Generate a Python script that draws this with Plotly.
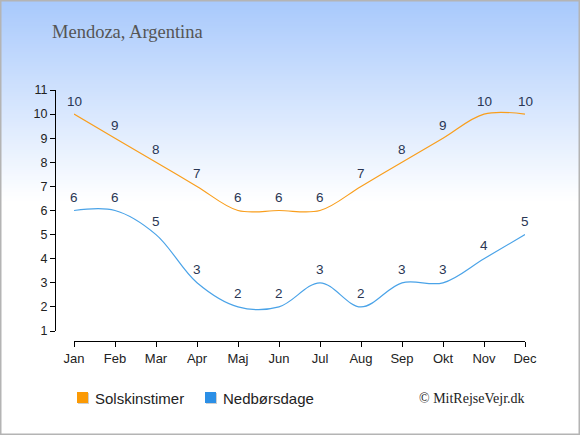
import plotly.graph_objects as go

months = ["Jan", "Feb", "Mar", "Apr", "Maj", "Jun", "Jul", "Aug", "Sep", "Okt", "Nov", "Dec"]
sun_hours = [10, 9, 8, 7, 6, 6, 6, 7, 8, 9, 10, 10]
rain_days = [6, 6, 5, 3, 2, 2, 3, 2, 3, 3, 4, 5]
y_ticks = list(range(1, 12))
series_names = ["Solskinstimer", "Nedbørsdage"]

W, H = 580, 435
SUN_COLOR = "#f99e1c"
RAIN_COLOR = "#4aa3e8"
LABEL_COLOR = "#2a3654"
SANS = "Liberation Sans, Arial, sans-serif"
SERIF = "Liberation Serif, Times New Roman, serif"

fig = go.Figure()
x_idx = list(range(len(months)))

fig.add_trace(go.Scatter(x=x_idx, y=sun_hours, mode="lines", name=series_names[0],
                         line=dict(color=SUN_COLOR, width=1.2, shape="spline", smoothing=1),
                         showlegend=False, hoverinfo="skip"))
fig.add_trace(go.Scatter(x=x_idx, y=rain_days, mode="lines", name=series_names[1],
                         line=dict(color=RAIN_COLOR, width=1.2, shape="spline", smoothing=1),
                         showlegend=False, hoverinfo="skip"))


def px_x(p):
    return p / W


def px_y(p):
    return 1 - p / H


annotations = []
for series in (sun_hours, rain_days):
    for xi, v in zip(x_idx, series):
        annotations.append(dict(x=xi, y=v, xref="x", yref="y", text=str(v), showarrow=False,
                                yshift=13, font=dict(family=SANS, size=13.5, color=LABEL_COLOR)))

annotations.append(dict(x=px_x(50), y=px_y(32), xref="paper", yref="paper", xanchor="left", yanchor="middle",
                        text="Mendoza, Argentina", showarrow=False,
                        font=dict(family=SERIF, size=18.5, color="#555555")))
annotations.append(dict(x=px_x(527), y=px_y(398), xref="paper", yref="paper", xanchor="right", yanchor="middle",
                        text="© MitRejseVejr.dk", showarrow=False,
                        font=dict(family=SERIF, size=14, color="#222222")))

# legend (drawn manually to match the reference spacing)
shapes = []
legend_items = [(series_names[0], "#fb9a05", 77, 93), (series_names[1], "#2b8fe6", 205, 221)]
for name, col, sq_x, tx in legend_items:
    shapes.append(dict(type="rect", xref="paper", yref="paper",
                       x0=px_x(sq_x + 1), x1=px_x(sq_x + 12), y0=px_y(404), y1=px_y(393),
                       line=dict(width=0), fillcolor="#cfcfcf", layer="above"))
    shapes.append(dict(type="rect", xref="paper", yref="paper",
                       x0=px_x(sq_x), x1=px_x(sq_x + 11), y0=px_y(403), y1=px_y(392),
                       line=dict(width=0), fillcolor=col, layer="above"))
    annotations.append(dict(x=px_x(tx), y=px_y(398), xref="paper", yref="paper", xanchor="left",
                            yanchor="middle", text=name, showarrow=False,
                            font=dict(family=SANS, size=15, color="#222222")))

# background gradient (light blue at top fading to white)
top = (168, 201, 252)
grad_end = 200
step = 2
for y0 in range(0, grad_end, step):
    t = y0 / grad_end
    c = tuple(int(round(top[i] + (255 - top[i]) * t)) for i in range(3))
    shapes.append(dict(type="rect", xref="paper", yref="paper", x0=0, x1=1,
                       y0=px_y(y0 + step + 0.5), y1=px_y(y0), line=dict(width=0),
                       fillcolor="rgb(%d,%d,%d)" % c, layer="below"))
shapes.append(dict(type="rect", xref="paper", yref="paper", x0=px_x(0.75), x1=px_x(W - 0.75),
                   y0=px_y(H - 0.75), y1=px_y(0.75),
                   line=dict(color="#b4b4b4", width=1.5), fillcolor="rgba(0,0,0,0)", layer="above"))

x0_px, x1_px = 74, 525
ytop_px, ybot_px = 90, 331
fig.update_layout(
    template="none",
    width=W, height=H,
    margin=dict(l=0, r=0, t=0, b=0, pad=0, autoexpand=False),
    paper_bgcolor="white", plot_bgcolor="rgba(0,0,0,0)",
    shapes=shapes, annotations=annotations,
    showlegend=False,
    hovermode=False,
    xaxis=dict(domain=[px_x(x0_px), px_x(x1_px)], range=[0, 11], tickvals=x_idx, ticktext=months,
               showgrid=False, zeroline=False, showline=True, linecolor="black", linewidth=1,
               ticks="outside", ticklen=5, tickcolor="black", tickwidth=1, automargin=False,
               anchor="free", position=px_y(341), fixedrange=True,
               tickfont=dict(family=SANS, size=13, color="#222222")),
    yaxis=dict(domain=[px_y(ybot_px), px_y(ytop_px)], range=[1, 11], tickvals=y_ticks,
               showgrid=False, zeroline=False, showline=True, linecolor="black", linewidth=1,
               ticks="outside", ticklen=5, tickcolor="black", tickwidth=1, automargin=False,
               anchor="free", position=px_x(55), fixedrange=True,
               tickfont=dict(family=SANS, size=12.5, color="#222222")),
)

fig.write_html("out.html", config=dict(displayModeBar=False, staticPlot=True),
               post_script="document.body.style.margin='0';document.body.style.overflow='hidden';")
